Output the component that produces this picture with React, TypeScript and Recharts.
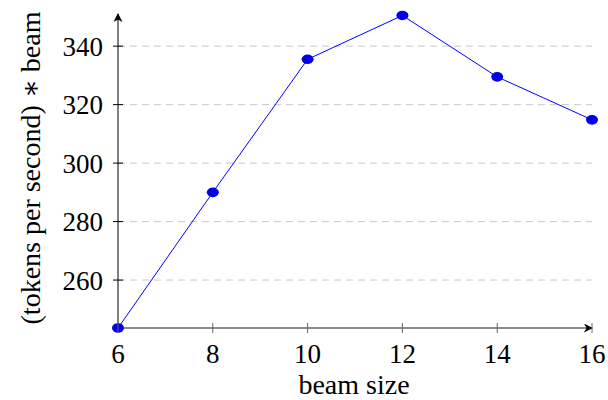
import { LineChart, Line, XAxis, YAxis, CartesianGrid } from "recharts";

// beam size vs. throughput scaled by beam
const beamSizes = [6, 8, 10, 12, 14, 16];
const tokensTimesBeam = [243.6, 290, 335.5, 350.5, 329.5, 314.8];
const xTicks = [6, 8, 10, 12, 14, 16];
const yTicks = [260, 280, 300, 320, 340];

const data = beamSizes.map((b, i) => ({ beam: b, value: tokensTimesBeam[i] }));

const FONT = "'Liberation Serif', 'DejaVu Serif', serif";
const textStyle = { fontFamily: FONT };

function YTick({ x, y, payload }: any) {
  return (
    <g>
      <line x1={x - 5} x2={x + 5} y1={y} y2={y} stroke="#000" />
      <text x={x - 15} y={y} dy="0.36em" textAnchor="end" style={textStyle} fontSize={27} fill="#000">
        {payload.value}
      </text>
    </g>
  );
}

function XTick({ x, y, payload }: any) {
  return (
    <g>
      <line x1={x} x2={x} y1={y - 5} y2={y + 5} stroke="#666" />
      <text x={x} y={y + 35} textAnchor="middle" style={textStyle} fontSize={27} fill="#000">
        {payload.value}
      </text>
    </g>
  );
}

function Dot({ cx, cy }: any) {
  return <ellipse cx={cx} cy={cy} rx={6} ry={4.8} fill="#0000e6" />;
}

export default function App() {
  return (
    <div style={{ position: "absolute", left: 0, top: 0 }}>
      <svg width={0} height={0} style={{ position: "absolute" }}>
        <defs>
          <marker id="arrowY" viewBox="0 0 10 10" refX={9} refY={5} markerWidth={9} markerHeight={9}
            markerUnits="userSpaceOnUse" orient="auto-start-reverse">
            <path d="M0,0 L10,5 L0,10 L3,5 z" fill="#000" />
          </marker>
          <marker id="arrowX" viewBox="0 0 10 10" refX={9} refY={5} markerWidth={9} markerHeight={9}
            markerUnits="userSpaceOnUse" orient="auto">
            <path d="M0,0 L10,5 L0,10 L3,5 z" fill="#000" />
          </marker>
        </defs>
      </svg>
      <LineChart width={608} height={400} data={data} margin={{ top: 14, right: 16, bottom: 0, left: 0 }}>
        <CartesianGrid vertical={false} horizontalValues={yTicks} stroke="#c8c8c8" strokeDasharray="7 5" />
        <XAxis
          dataKey="beam"
          type="number"
          domain={[6, 16]}
          ticks={xTicks}
          height={72}
          tickSize={0}
          tickMargin={0}
          tickLine={false}
          axisLine={{ stroke: "#666", strokeWidth: 1.5, markerEnd: "url(#arrowX)" }}
          tick={<XTick />}
          label={{
            content: () => (
              <text x={354} y={394} textAnchor="middle" style={textStyle} fontSize={28} fill="#000">
                beam size
              </text>
            ),
          }}
        />
        <YAxis
          type="number"
          domain={[243.6, 351]}
          ticks={yTicks}
          width={118}
          tickSize={0}
          tickMargin={0}
          tickLine={false}
          axisLine={{ stroke: "#000", strokeWidth: 1, markerStart: "url(#arrowY)" }}
          tick={<YTick />}
          label={{
            content: () => (
              <text transform="translate(30,168) rotate(-90)" textAnchor="middle" dominantBaseline="central"
                style={textStyle} fontSize={28} fill="#000">
                (tokens per second) ∗ beam
              </text>
            ),
          }}
        />
        <Line
          dataKey="value"
          stroke="#0000ff"
          strokeWidth={1}
          dot={<Dot />}
          activeDot={false}
          isAnimationActive={false}
        />
      </LineChart>
    </div>
  );
}
